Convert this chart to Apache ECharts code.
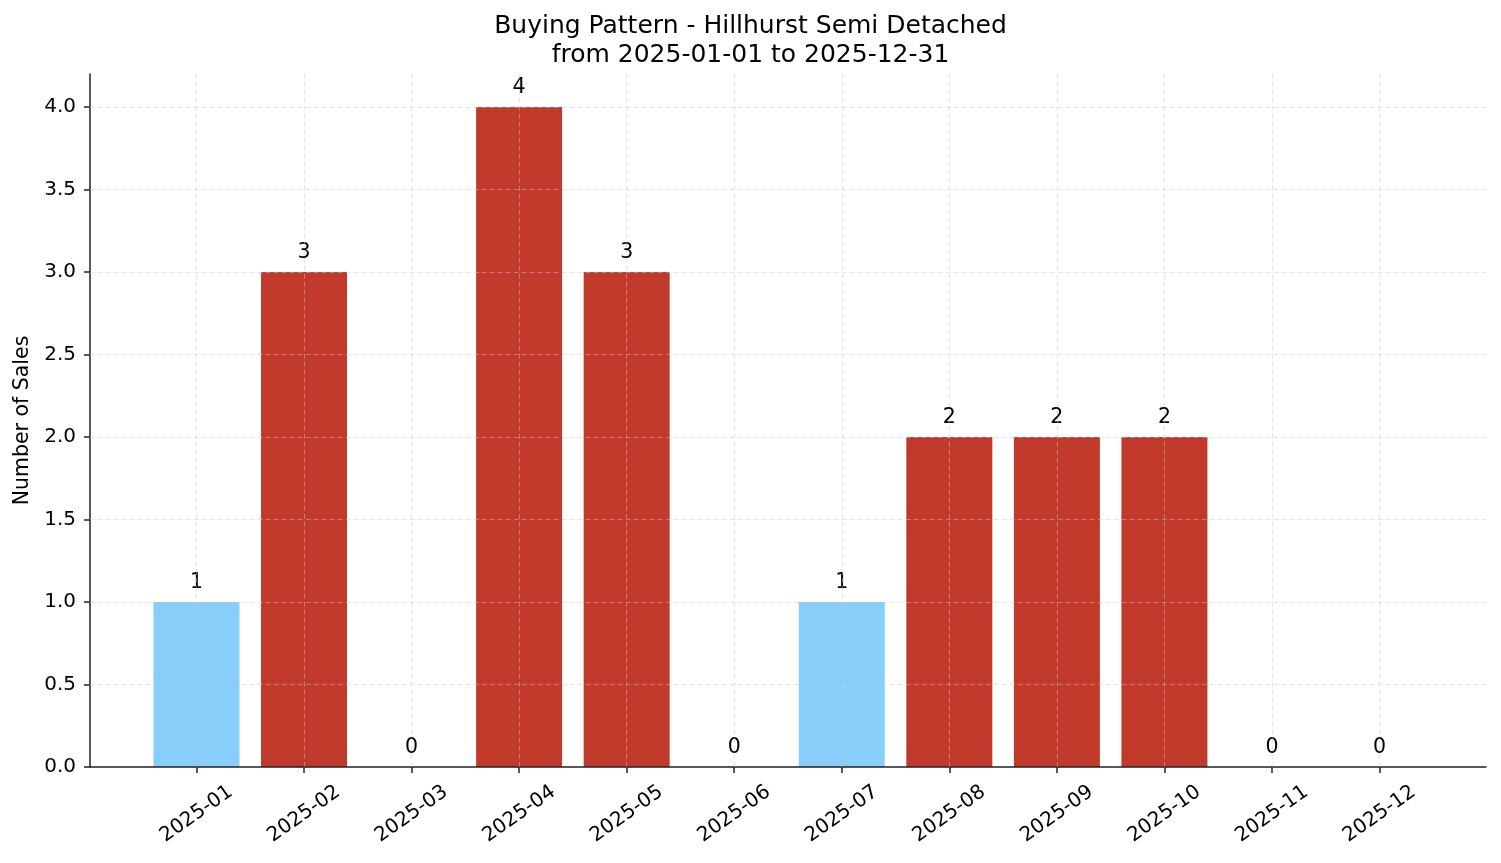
<!DOCTYPE html>
<html><head><meta charset="utf-8">
<script src="https://cdn.jsdelivr.net/npm/echarts@6/dist/echarts.min.js"></script>
<style>html,body{margin:0;padding:0;background:#fff}#c{width:1501px;height:863px}</style>
</head><body><div id="c"></div>
<script>
const categories = ['2025-01','2025-02','2025-03','2025-04','2025-05','2025-06','2025-07','2025-08','2025-09','2025-10','2025-11','2025-12'];
const sales = [1, 3, 0, 4, 3, 0, 1, 2, 2, 2, 0, 0];
const yTicks = [0, 0.5, 1, 1.5, 2, 2.5, 3, 3.5, 4];
const titleText = 'Buying Pattern - Hillhurst Semi Detached\nfrom 2025-01-01 to 2025-12-31';

const idx = categories.map((c, i) => i);
const chart = echarts.init(document.getElementById('c'), null, {renderer: 'canvas'});
const font = 'DejaVu Sans';
chart.setOption({
  animation: false,
  textStyle: {fontFamily: font},
  title: {text: titleText, left: 'center', top: 7,
    textStyle: {fontFamily: font, fontSize: 25, fontWeight: 'normal', color: '#000', lineHeight: 29}},
  grid: {left: 90, right: 15, top: 74, bottom: 96, containLabel: false, outerBoundsMode: 'none'},
  xAxis: {
    type: 'value', min: -0.99, max: 11.99, z: 3,
    axisLine: {show: true, onZero: false, lineStyle: {color: '#222', width: 1.5}},
    axisTick: {show: true, customValues: idx, length: 6, lineStyle: {color: '#222', width: 1.5}},
    axisLabel: {customValues: idx, rotate: 35, fontSize: 20, color: '#000', margin: 47,
      align: 'center', verticalAlign: 'middle',
      formatter: v => categories[Math.round(v)] || ''},
    splitLine: {show: false}
  },
  yAxis: {
    type: 'value', min: 0, max: 4.2, z: 3,
    name: 'Number of Sales', nameLocation: 'middle', nameGap: 57,
    nameTextStyle: {fontSize: 20.5, color: '#000'},
    axisLine: {show: true, onZero: false, lineStyle: {color: '#222', width: 1.5}},
    axisTick: {show: true, customValues: yTicks, length: 6, lineStyle: {color: '#222', width: 1.5}},
    axisLabel: {customValues: yTicks, fontSize: 20, color: '#000', margin: 14, formatter: v => v.toFixed(1)},
    splitLine: {show: false}
  },
  series: [
    {
      type: 'bar', barWidth: 86, z: 2,
      data: idx.map(i => [i, sales[i]]),
      itemStyle: {color: p => p.value[1] <= 1 ? '#87CEFA' : '#C0392B'},
      label: {show: true, position: 'top', distance: 9, fontSize: 20.5, color: '#000',
        formatter: p => String(p.value[1])}
    },
    {
      type: 'line', data: [], z: 5, silent: true,
      markLine: {
        silent: true, symbol: 'none', label: {show: false},
        lineStyle: {color: 'rgba(200,200,200,0.6)', type: [5, 3], width: 0.8},
        data: yTicks.filter(v => v > 0).map(v => ({yAxis: v})).concat(idx.map(i => ({xAxis: i})))
      }
    }
  ]
});
</script></body></html>
